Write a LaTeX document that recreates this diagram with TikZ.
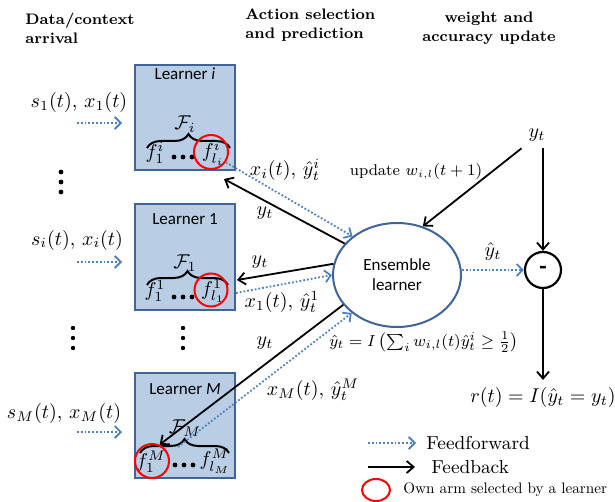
\documentclass[tikz,border=0pt]{standalone}
\usepackage{amsmath,amssymb}
\usepackage{graphicx}
\usepackage{fontspec}
\newfontfamily\calibri{Carlito}
\usetikzlibrary{arrows.meta,shapes.geometric,positioning,decorations.pathreplacing}
\definecolor{boxfill}{RGB}{185,205,229}
\definecolor{boxline}{RGB}{65,100,150}
\definecolor{ffblue}{RGB}{79,129,189}

\begin{document}
\begin{tikzpicture}[x=0.5pt, y=-0.5pt,
    learner/.style={draw=boxline, fill=boxfill, line width=1pt, minimum width=50pt, minimum height=52.5pt, inner sep=0pt},
    lname/.style={font=\calibri\fontsize{8.5}{10}\selectfont, inner sep=0pt},
    own/.style={draw=red, line width=1pt, circle, minimum size=17pt, inner sep=0pt},
    ensemble/.style={draw=boxline, line width=1pt, ellipse, minimum width=64pt, minimum height=52pt, align=center, font=\calibri\fontsize{8.5}{10}\selectfont},
    minus/.style={draw, line width=1.1pt, circle, minimum size=18pt, inner sep=0pt, font=\calibri\bfseries\large},
    ttl/.style={font=\fontsize{7.6}{9.5}\selectfont\bfseries, inner sep=0pt},
    sml/.style={font=\fontsize{8}{10}\selectfont},
    key/.style={anchor=west, inner sep=0pt, font=\fontsize{9.4}{11}\selectfont},
    brc/.style={decorate, decoration={brace, amplitude=7pt}, line width=1pt},
    ff/.style={draw=ffblue, line width=0.9pt, densely dotted, -{Straight Barb[length=3pt,width=6pt]}},
    fb/.style={line width=0.9pt, -{Straight Barb[length=3.5pt,width=6pt]}}
]
\useasboundingbox (0,0) rectangle (615,502);

\node[ttl, align=left, anchor=west] (t-data) at (25,28) {Data/context\\arrival};
\node[ttl, align=left, anchor=west] (t-act) at (245,25) {Action selection\\and prediction};
\node[ttl, align=center] (t-upd) at (489,28) {weight and\\accuracy update};

\node[learner] (li) at (185,117.5) {};
\node[lname] (li-name) at (185,74) {Learner \textit{i}};
\node (li-F) at (185,124) {$\mathcal{F}_i$};
\draw[brc] (147,148) -- (230,148);
\node (li-f1) at (155,153) {$f_1^i$};
\node (li-fl) at (213,153) {$f_{l_i}^i$};
\foreach \dx in {-9,0,9} \fill (183+\dx,157) circle (2.4);
\node[own] (li-sel) at (211,152) {};

\node[learner] (l1) at (185,257) {};
\node[lname] (l1-name) at (185,219) {Learner 1};
\node (l1-F) at (185,263) {$\mathcal{F}_1$};
\draw[brc] (147,285) -- (228,285);
\node (l1-f1) at (155,291) {$f_1^1$};
\node (l1-fl) at (213,291) {$f_{l_1}^1$};
\foreach \dx in {-9,0,9} \fill (183+\dx,297) circle (2.4);
\node[own, minimum size=16.5pt] (l1-sel) at (211,290) {};

\node[learner] (lM) at (185,425.5) {};
\node[lname] (lM-name) at (185,389) {Learner \textit{M}};
\node (lM-F) at (185,428) {$\mathcal{F}_M$};
\draw[brc] (140,453) -- (229,453);
\node (lM-f1) at (151,462) {$f_1^M$};
\node (lM-fl) at (215,461) {$f_{l_M}^M$};
\foreach \dx in {-9,0,9} \fill (184+\dx,465) circle (2.4);
\node[own] (lM-sel) at (152,461) {};

\foreach \yy in {172,182,192} \fill (61,\yy) circle (2.4);
\foreach \yy in {328,338,348} \fill (73,\yy) circle (2.2);
\foreach \yy in {328,338,348} \fill (183,\yy) circle (2.2);

\node (s1) at (79,103) {$s_1(t),\, x_1(t)$};
\node (si) at (77,240) {$s_i(t),\, x_i(t)$};
\node (sM) at (64,413) {$s_M(t),\, x_M(t)$};
\coordinate (in-i) at (77,123);
\coordinate (in-1) at (77,262);
\coordinate (in-M) at (77,432);
\draw[ff, shorten >=6pt] (in-i) -- (li.west |- in-i);
\draw[ff, shorten >=6pt] (in-1) -- (l1.west |- in-1);
\draw[ff, shorten >=6pt] (in-M) -- (lM.west |- in-M);

\node[ensemble] (ens) at (397,275) {Ensemble\\learner};

\draw[ff] (li-sel.-35) -- (ens.139);
\draw[fb] (ens.149) -- ([shift={(-12,8)}]li.south east);
\draw[fb] (ens.170) -- ([shift={(1,23)}]l1.east);
\draw[ff] ([shift={(0,36)}]l1.east) -- (ens.west);
\draw[fb] (ens.209) -- (lM-sel.65);
\draw[ff] ([shift={(-7,21.5)}]lM.center) -- (ens.220);

\node (lab-xi) at (285,170) {$x_i(t),\, \hat{y}_t^i$};
\node (lab-yi) at (265,213) {$y_t$};
\node (lab-y1) at (260,262) {$y_t$};
\node (lab-x1) at (282,302) {$x_1(t),\, \hat{y}_t^1$};
\node (lab-yM) at (265,343) {$y_t$};
\node (lab-xM) at (313,390) {$x_M(t),\, \hat{y}_t^M$};

\node[minus] (dif) at (543,270) {-};
\node (yt) at (537,135) {$y_t$};
\node[sml, font=\fontsize{7.8}{10}\selectfont] (upd) at (416,172) {update $w_{i,l}(t+1)$};
\draw[fb] (yt.south west) -- (ens.62);
\draw[fb] (dif.north |- yt.south) -- (dif.north);
\draw[ff] (ens.east |- dif.west) -- node[above=1pt] (lab-yh) {$\hat{y}_t$} (dif.west);
\node (rt) at (543,397) {$r(t) = I(\hat{y}_t = y_t)$};
\draw[fb] (dif.south) -- (rt.north);
\node[sml] (rule) at (424,342) {$\hat{y}_t = I\left(\sum_i w_{i,l}(t)\hat{y}_t^i \geq \frac{1}{2}\right)$};

\node[key] (key-ff) at (426,443) {Feedforward};
\node[key] (key-fb) at (431,467) {Feedback};
\coordinate (key-ffa) at (368,443);
\coordinate (key-fba) at (368,467);
\draw[ff, shorten >=5pt] (key-ffa) -- (key-ff.west);
\draw[fb, shorten >=8pt] (key-fba) -- (key-fb.west);
\node[draw=red, line width=1pt, ellipse, minimum width=14pt, minimum height=11pt, inner sep=0pt] (key-own) at (376,490) {};
\node[key, font=\fontsize{10}{12}\selectfont] (key-own-lab) at (403,490) {\scalebox{0.76}{Own arm selected by a learner}};
\end{tikzpicture}
\end{document}
